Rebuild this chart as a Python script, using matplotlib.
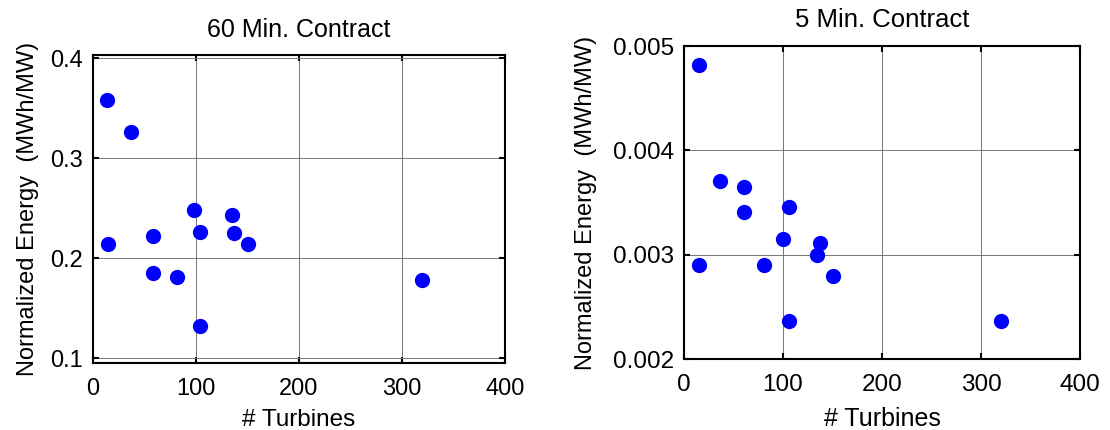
import matplotlib.pyplot as plt

plt.rcParams["font.family"] = ["Liberation Sans", "DejaVu Sans"]
plt.rcParams["font.size"] = 17

# 60 min contract
turbines_60 = [14, 37, 15, 59, 59, 82, 98, 104, 104, 135, 137, 151, 320]
energy_60 = [0.358, 0.326, 0.214, 0.222, 0.185, 0.181, 0.248, 0.226, 0.132,
             0.243, 0.225, 0.214, 0.178]

# 5 min contract
turbines_5 = [15, 36, 61, 61, 15, 81, 100, 106, 106, 137, 134, 151, 320]
energy_5 = [0.00482, 0.00371, 0.00365, 0.00341, 0.00290, 0.00290, 0.00315,
            0.00346, 0.00236, 0.00311, 0.00300, 0.00280, 0.00236]

x_ticks = [0, 100, 200, 300, 400]
y_ticks_60 = [0.1, 0.2, 0.3, 0.4]
y_ticks_5 = [0.002, 0.003, 0.004, 0.005]
ylabel = "Normalized Energy  (MWh/MW)"

fig = plt.figure(figsize=(11.1, 4.3), dpi=100)
ax1 = fig.add_axes([0.0835, 0.156, 0.3714, 0.715])
ax2 = fig.add_axes([0.6162, 0.165, 0.3568, 0.728])


def style(ax, yticks, ylim, title, title_fs, fs, tick_fs, xpad, ypad, tpad):
    ax.set_xlim(0, 400)
    ax.set_ylim(*ylim)
    ax.set_xticks(x_ticks)
    ax.set_yticks(yticks)
    ax.grid(True, color="#777777", linewidth=0.7)
    ax.set_axisbelow(True)
    ax.tick_params(direction="in", top=True, right=True, length=4, width=1.5,
                   labelsize=tick_fs)
    ax.tick_params(axis="x", pad=11)
    ax.tick_params(axis="y", pad=7)
    for s in ax.spines.values():
        s.set_linewidth(1.5)
    ax.set_xlabel("# Turbines", fontsize=fs, labelpad=xpad)
    ax.set_ylabel(ylabel, fontsize=17, labelpad=ypad)
    ax.set_title(title, fontsize=title_fs, pad=tpad)


ax1.plot(turbines_60, energy_60, "o", color="#0000ff", markersize=11, markeredgewidth=0)
style(ax1, y_ticks_60, (0.0955, 0.4027), "60 Min. Contract", 18, 17.5, 17, 6.5, 8, 13.5)
ax1.set_yticklabels(["0.1", "0.2", "0.3", "0.4"])

ax2.plot(turbines_5, energy_5, "o", color="#0000ff", markersize=11, markeredgewidth=0)
style(ax2, y_ticks_5, (0.002, 0.005), "5 Min. Contract", 18.5, 18, 17.5, 8, 11.5, 14)
ax2.set_yticklabels(["0.002", "0.003", "0.004", "0.005"])

fig.savefig("out.png", dpi=100)
